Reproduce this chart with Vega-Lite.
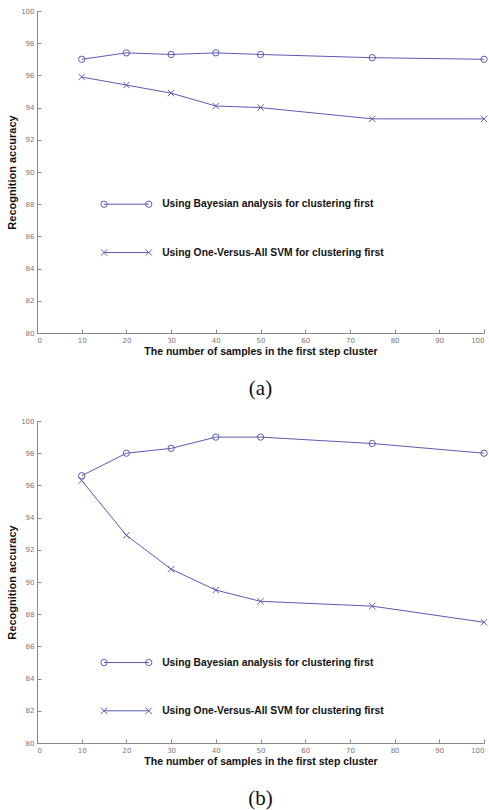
{
  "$schema": "https://vega.github.io/schema/vega-lite/v6.json",
  "padding": {"left": 6, "top": 7, "right": 2, "bottom": 5},
  "spacing": 18,
  "config": {
    "view": {"stroke": null},
    "font": "Liberation Sans",
    "axis": {
      "grid": false,
      "domainColor": "#888888",
      "tickColor": "#888888",
      "tickSize": -4,
      "labelPadding": 7,
      "labelOverlap": false,
      "labelFont": "DejaVu Sans",
      "labelFontSize": 7,
      "labelColor": "#777777",
      "titleFont": "Liberation Sans",
      "titleFontWeight": "bold",
      "titleColor": "#111111"
    }
  },
  "datasets": {
    "series": [
      {"panel": "a", "series": "Bayes", "x": 10, "y": 97.0},
      {"panel": "a", "series": "Bayes", "x": 20, "y": 97.4},
      {"panel": "a", "series": "Bayes", "x": 30, "y": 97.3},
      {"panel": "a", "series": "Bayes", "x": 40, "y": 97.4},
      {"panel": "a", "series": "Bayes", "x": 50, "y": 97.3},
      {"panel": "a", "series": "Bayes", "x": 75, "y": 97.1},
      {"panel": "a", "series": "Bayes", "x": 100, "y": 97.0},
      {"panel": "a", "series": "SVM", "x": 10, "y": 95.9},
      {"panel": "a", "series": "SVM", "x": 20, "y": 95.4},
      {"panel": "a", "series": "SVM", "x": 30, "y": 94.9},
      {"panel": "a", "series": "SVM", "x": 40, "y": 94.1},
      {"panel": "a", "series": "SVM", "x": 50, "y": 94.0},
      {"panel": "a", "series": "SVM", "x": 75, "y": 93.3},
      {"panel": "a", "series": "SVM", "x": 100, "y": 93.3},
      {"panel": "b", "series": "Bayes", "x": 10, "y": 96.6},
      {"panel": "b", "series": "Bayes", "x": 20, "y": 98.0},
      {"panel": "b", "series": "Bayes", "x": 30, "y": 98.3},
      {"panel": "b", "series": "Bayes", "x": 40, "y": 99.0},
      {"panel": "b", "series": "Bayes", "x": 50, "y": 99.0},
      {"panel": "b", "series": "Bayes", "x": 75, "y": 98.6},
      {"panel": "b", "series": "Bayes", "x": 100, "y": 98.0},
      {"panel": "b", "series": "SVM", "x": 10, "y": 96.3},
      {"panel": "b", "series": "SVM", "x": 20, "y": 92.9},
      {"panel": "b", "series": "SVM", "x": 30, "y": 90.8},
      {"panel": "b", "series": "SVM", "x": 40, "y": 89.5},
      {"panel": "b", "series": "SVM", "x": 50, "y": 88.8},
      {"panel": "b", "series": "SVM", "x": 75, "y": 88.5},
      {"panel": "b", "series": "SVM", "x": 100, "y": 87.5}
    ],
    "legend": [
      {"panel": "a", "series": "Bayes", "x1": 15, "x2": 25, "xt": 28, "y": 88, "label": "Using Bayesian analysis for clustering first"},
      {"panel": "a", "series": "SVM", "x1": 15, "x2": 25, "xt": 28, "y": 85, "label": "Using One-Versus-All SVM for clustering first"},
      {"panel": "b", "series": "Bayes", "x1": 15, "x2": 25, "xt": 28, "y": 85, "label": "Using Bayesian analysis for clustering first"},
      {"panel": "b", "series": "SVM", "x1": 15, "x2": 25, "xt": 28, "y": 82, "label": "Using One-Versus-All SVM for clustering first"}
    ]
  },
  "vconcat": [
    {
      "width": 447,
      "height": 322,
      "title": {"text": "(a)", "orient": "bottom", "anchor": "middle", "font": "Liberation Serif", "fontSize": 21, "fontWeight": "normal", "color": "#111111", "offset": 21},
      "layer": [
        {
          "data": {"name": "series"},
          "transform": [{"filter": "datum.panel === 'a'"}],
          "mark": {"type": "line", "color": "#5b5bb0", "strokeWidth": 1},
          "encoding": {
            "x": {"field": "x", "type": "quantitative", "scale": {"domain": [0, 100], "nice": false}, "axis": {"values": [0,10,20,30,40,50,60,70,80,90,100], "labelOverlap": false, "title": "The number of samples in the first step cluster", "titleFontSize": 10.5, "titlePadding": 3}},
            "y": {"field": "y", "type": "quantitative", "scale": {"domain": [80, 100], "nice": false, "zero": false}, "axis": {"values": [80,82,84,86,88,90,92,94,96,98,100], "labelOverlap": false, "tickCount": 11, "title": "Recognition accuracy", "titleFontSize": 11, "titlePadding": 3}},
            "detail": {"field": "series"}
          }
        },
        {
          "data": {"name": "series"},
          "transform": [{"filter": "datum.panel === 'a'"}],
          "mark": {"type": "point", "filled": false, "color": "#5b5bb0", "strokeWidth": 1, "size": 40, "opacity": 1},
          "encoding": {
            "x": {"field": "x", "type": "quantitative"},
            "y": {"field": "y", "type": "quantitative"},
            "shape": {"field": "series", "type": "nominal", "scale": {"domain": ["Bayes", "SVM"], "range": ["circle", "M-1,-1L1,1M-1,1L1,-1"]}, "legend": null}
          }
        },
        {
          "data": {"name": "legend"},
          "transform": [{"filter": "datum.panel === 'a'"}],
          "mark": {"type": "rule", "color": "#5b5bb0", "strokeWidth": 1},
          "encoding": {
            "x": {"field": "x1", "type": "quantitative"},
            "x2": {"field": "x2"},
            "y": {"field": "y", "type": "quantitative"}
          }
        },
        {
          "data": {"name": "legend"},
          "transform": [{"filter": "datum.panel === 'a'"}],
          "mark": {"type": "point", "filled": false, "color": "#5b5bb0", "strokeWidth": 1, "size": 40, "opacity": 1},
          "encoding": {
            "x": {"field": "x1", "type": "quantitative"},
            "y": {"field": "y", "type": "quantitative"},
            "shape": {"field": "series", "type": "nominal", "legend": null}
          }
        },
        {
          "data": {"name": "legend"},
          "transform": [{"filter": "datum.panel === 'a'"}],
          "mark": {"type": "point", "filled": false, "color": "#5b5bb0", "strokeWidth": 1, "size": 40, "opacity": 1},
          "encoding": {
            "x": {"field": "x2", "type": "quantitative"},
            "y": {"field": "y", "type": "quantitative"},
            "shape": {"field": "series", "type": "nominal", "legend": null}
          }
        },
        {
          "data": {"name": "legend"},
          "transform": [{"filter": "datum.panel === 'a'"}],
          "mark": {"type": "text", "align": "left", "baseline": "middle", "font": "Liberation Sans", "fontWeight": "bold", "fontSize": 10.3, "color": "#111111"},
          "encoding": {
            "x": {"field": "xt", "type": "quantitative"},
            "y": {"field": "y", "type": "quantitative"},
            "text": {"field": "label"}
          }
        }
      ]
    },
    {
      "width": 447,
      "height": 322,
      "title": {"text": "(b)", "orient": "bottom", "anchor": "middle", "font": "Liberation Serif", "fontSize": 21, "fontWeight": "normal", "color": "#111111", "offset": 21},
      "layer": [
        {
          "data": {"name": "series"},
          "transform": [{"filter": "datum.panel === 'b'"}],
          "mark": {"type": "line", "color": "#5b5bb0", "strokeWidth": 1},
          "encoding": {
            "x": {"field": "x", "type": "quantitative", "scale": {"domain": [0, 100], "nice": false}, "axis": {"values": [0,10,20,30,40,50,60,70,80,90,100], "labelOverlap": false, "title": "The number of samples in the first step cluster", "titleFontSize": 10.5, "titlePadding": 3}},
            "y": {"field": "y", "type": "quantitative", "scale": {"domain": [80, 100], "nice": false, "zero": false}, "axis": {"values": [80,82,84,86,88,90,92,94,96,98,100], "labelOverlap": false, "tickCount": 11, "title": "Recognition accuracy", "titleFontSize": 11, "titlePadding": 3}},
            "detail": {"field": "series"}
          }
        },
        {
          "data": {"name": "series"},
          "transform": [{"filter": "datum.panel === 'b'"}],
          "mark": {"type": "point", "filled": false, "color": "#5b5bb0", "strokeWidth": 1, "size": 40, "opacity": 1},
          "encoding": {
            "x": {"field": "x", "type": "quantitative"},
            "y": {"field": "y", "type": "quantitative"},
            "shape": {"field": "series", "type": "nominal", "scale": {"domain": ["Bayes", "SVM"], "range": ["circle", "M-1,-1L1,1M-1,1L1,-1"]}, "legend": null}
          }
        },
        {
          "data": {"name": "legend"},
          "transform": [{"filter": "datum.panel === 'b'"}],
          "mark": {"type": "rule", "color": "#5b5bb0", "strokeWidth": 1},
          "encoding": {
            "x": {"field": "x1", "type": "quantitative"},
            "x2": {"field": "x2"},
            "y": {"field": "y", "type": "quantitative"}
          }
        },
        {
          "data": {"name": "legend"},
          "transform": [{"filter": "datum.panel === 'b'"}],
          "mark": {"type": "point", "filled": false, "color": "#5b5bb0", "strokeWidth": 1, "size": 40, "opacity": 1},
          "encoding": {
            "x": {"field": "x1", "type": "quantitative"},
            "y": {"field": "y", "type": "quantitative"},
            "shape": {"field": "series", "type": "nominal", "legend": null}
          }
        },
        {
          "data": {"name": "legend"},
          "transform": [{"filter": "datum.panel === 'b'"}],
          "mark": {"type": "point", "filled": false, "color": "#5b5bb0", "strokeWidth": 1, "size": 40, "opacity": 1},
          "encoding": {
            "x": {"field": "x2", "type": "quantitative"},
            "y": {"field": "y", "type": "quantitative"},
            "shape": {"field": "series", "type": "nominal", "legend": null}
          }
        },
        {
          "data": {"name": "legend"},
          "transform": [{"filter": "datum.panel === 'b'"}],
          "mark": {"type": "text", "align": "left", "baseline": "middle", "font": "Liberation Sans", "fontWeight": "bold", "fontSize": 10.3, "color": "#111111"},
          "encoding": {
            "x": {"field": "xt", "type": "quantitative"},
            "y": {"field": "y", "type": "quantitative"},
            "text": {"field": "label"}
          }
        }
      ]
    }
  ]
}
